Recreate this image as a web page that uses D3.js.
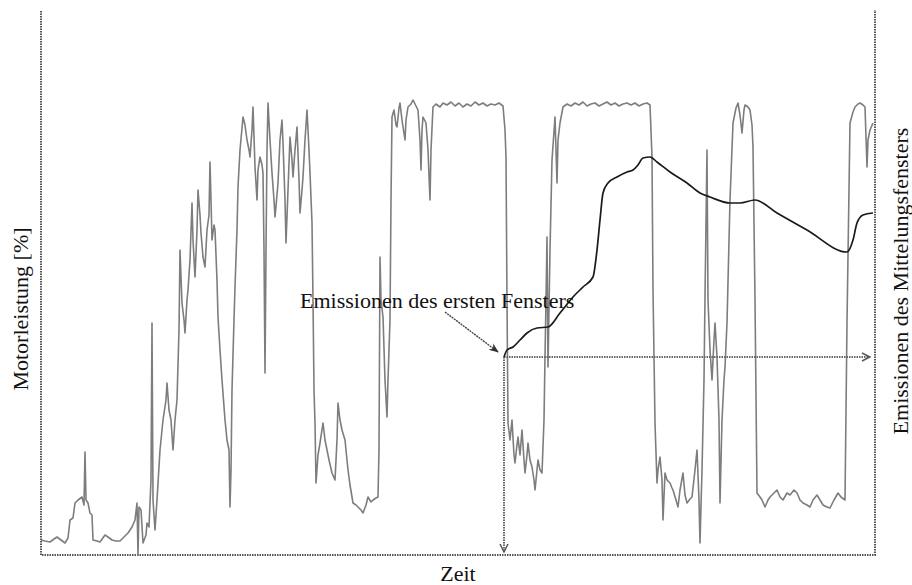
<!DOCTYPE html>
<html>
<head>
<meta charset="utf-8">
<script src="https://cdn.jsdelivr.net/npm/d3@7"></script>
<style>
  body { margin: 0; background: #fff; }
  text { font-family: "Liberation Serif", "DejaVu Serif", serif; fill: #111; }
</style>
</head>
<body>
<div id="chart"></div>
<script>
var width = 912,
    height = 585;

// Motorleistung ueber der Zeit (s, %)
var zeit = [0,8,18,26,32,40,48,54,58,64,68,74,82,86,88,90,94,98,102,104,
  112,118,128,134,142,150,158,166,174,182,188,192,194,196,200,204,210,212,216,220,
  222,224,228,232,238,244,250,252,256,260,264,268,272,276,278,282,286,288,292,294,
  298,302,304,308,312,314,318,320,324,328,332,336,338,340,342,346,348,352,354,358,
  362,368,372,376,378,380,382,386,388,392,394,398,404,408,412,416,418,422,424,428,
  432,434,438,442,444,446,448,450,452,454,458,462,466,468,472,474,478,482,484,488,
  490,494,498,502,504,508,512,516,518,522,524,528,532,536,538,542,544,546,548,550,
  554,558,564,568,572,576,582,588,592,594,598,602,608,614,618,624,630,634,640,644,
  650,654,660,664,670,674,676,678,680,684,688,692,694,698,700,702,706,710,712,716,
  718,722,728,730,734,740,744,750,754,758,760,762,764,770,774,778,780,784,790,798,
  804,812,820,828,836,844,852,860,868,876,884,892,900,908,916,924,928,930,932,934,
  938,942,946,948,952,954,958,962,966,968,972,974,978,982,986,988,992,994,998,1002,
  1006,1008,1010,1012,1014,1018,1022,1028,1032,1034,1038,1044,1052,1060,1068,1076,1084,1092,1100,1108,
  1116,1124,1132,1140,1148,1156,1164,1172,1180,1188,1196,1204,1212,1218,1222,1224,1228,1232,1234,1238,
  1242,1244,1248,1252,1258,1262,1264,1270,1274,1278,1284,1288,1292,1298,1302,1308,1312,1316,1318,1322,
  1326,1328,1332,1334,1338,1342,1346,1348,1352,1356,1358,1362,1366,1368,1372,1378,1384,1390,1394,1398,
  1402,1406,1408,1414,1418,1422,1424,1428,1432,1438,1442,1448,1454,1458,1466,1472,1478,1484,1492,1498,
  1506,1512,1518,1524,1532,1538,1544,1552,1558,1564,1572,1578,1586,1594,1600,1608,1612,1618,1624,1628,
  1634,1638,1644,1648,1652,1654,1658,1664];

var leistung = [3,2.8,2.6,3.2,3.6,3,2.4,3.4,7,7.4,10.4,11,11.6,10,20.6,11,10.4,8.4,8,3,
  2.8,2.6,4,3.6,3,2.8,2.8,3.6,4.4,5.6,7,10.4,0,9.6,9,2.4,4,6.4,5.6,15,
  46.4,11,5,11,21,27,31,34.4,29,27,21,27,31,45,61,50.4,47,44.4,51,53,
  59,70.4,63,55.6,65,73,68,64.4,59.6,57.6,65,68,78.6,71,63,66,65,55,47.6,41,
  35,27,23,21,9.6,17,33,47,53.6,65,73.6,81,87.6,86,83,81,79.6,85,89.6,77.6,
  71,77,79.6,78,76.4,61,36.4,61,81,90.4,83,76.4,71,67.6,72,74.4,83,87,82.4,71,
  62.4,73,83.6,79,75.6,81,85.6,75,68.4,73,75.6,83,89,81,76.4,66.4,51,33,26.4,14.4,
  20,22.4,26.4,23,21,19,16.4,15,23,30.4,27,25,23,17,14,10.4,10,9.6,9,8.4,
  10,11.6,10.6,11,11.4,11.6,21,59.6,51,47.6,35,27.6,35,47,71,87.6,89,86,85.6,89.4,
  90.4,87,83,87,89.6,90.2,91,89.8,89,83,77,85,87.6,86.4,81,71,81,89.6,90.2,89.6,
  90.4,90,90.6,89.8,90.4,89.6,90.2,89.8,90.6,90,90.4,89.8,90.2,90,90.4,89.8,85,79.6,51,26.4,
  23,27,20,18.4,22,23.6,20,25,19,16.4,20,22.4,19,17.6,15,13,17,19,17,16.4,
  27,39.6,51,63.6,37.6,61,79,87.6,74.4,83,86.4,89.6,90.2,89.8,90.4,90,90.6,89.8,90.2,90.4,
  89.8,90.2,90.6,90,90.4,89.8,90.2,90.4,90,90.4,89.8,90.2,90.4,90,79.6,53,26.4,14.4,17,19.6,
  15,7,16.4,15,14.4,13.4,13,11,9.6,13,16.4,12,10.4,11.2,11.6,17,21,11,2.4,17,
  35,51.6,81,51,41,35,43,46.4,39.6,27,10.4,27,35,37.6,46.4,71,86.4,89.4,90.4,88,
  84.4,89,90,89.6,89,86,81.6,51,12.4,11.6,11,9.6,11,11.6,12.4,13,11.6,11,12.4,12,
  13,12.4,11,10.4,10,9.6,11,12,11,10,9.6,9.4,11,12.4,11.6,11,46.4,86.4,88.6,89.6,
  90.2,90.4,90,89.6,77.6,83,85,86.4];

// Emissionen des Mittelungsfensters (rechte Achse)
var emZeit = [926,932,944,958,972,992,1014,1038,1064,1084,1104,1112,1118,1124,1134,1152,1172,1184,1194,1204,
  1218,1232,1258,1292,1318,1338,1378,1398,1428,1472,1532,1612,1624,1632,1644,1664];
var emWert = [39.6,41,41.6,43,44.4,45.4,45.6,48.4,51.6,53.6,55.6,61,67,72.4,74.4,75.6,76.6,77,78,79.4,
  79.6,78.6,76.6,74.4,72.4,71.6,70.4,70.4,71,68.4,65,60.6,63,66.4,68,68.4];

var fensterStart = 926,
    fensterEnde = 1658;

var labelLinks = "Motorleistung [%]",
    labelRechts = "Emissionen des Mittelungsfensters",
    labelUnten = "Zeit",
    labelHinweis = "Emissionen des ersten Fensters";

var plotLeft = 41, plotRight = 875, plotBottom = 555, plotTop = 11;

var svg = d3.select("#chart")
    .append("svg")
    .attr("width", width)
    .attr("height", height);

var x = d3.scaleLinear().domain([0, 1668]).range([plotLeft, plotRight]);
var y = d3.scaleLinear().domain([0, 100]).range([plotBottom, 55]);
var yEm = d3.scaleLinear().domain([0, 100]).range([plotBottom, 55]);

var defs = svg.append("defs");
defs.append("marker")
    .attr("id", "chevron")
    .attr("viewBox", "0 0 10 10")
    .attr("refX", 9).attr("refY", 5)
    .attr("markerWidth", 10).attr("markerHeight", 10)
    .attr("markerUnits", "userSpaceOnUse")
    .attr("orient", "auto")
  .append("path")
    .attr("d", "M1,1 L9,5 L1,9")
    .attr("fill", "none")
    .attr("stroke", "#555")
    .attr("stroke-width", 1.5);
defs.append("marker")
    .attr("id", "pfeil")
    .attr("viewBox", "0 0 10 10")
    .attr("refX", 9).attr("refY", 5)
    .attr("markerWidth", 10).attr("markerHeight", 10)
    .attr("markerUnits", "userSpaceOnUse")
    .attr("orient", "auto")
  .append("path")
    .attr("d", "M0,1 L10,5 L0,9 L3,5 Z")
    .attr("fill", "#333");

// Rahmen (links, unten, rechts)
svg.append("path")
    .attr("d", "M" + plotLeft + "," + plotTop + " V" + plotBottom + " H" + plotRight + " V" + (plotTop - 1))
    .attr("fill", "none")
    .attr("stroke", "#555")
    .attr("stroke-width", 2)
    .attr("stroke-dasharray", "1.5,1");

var leistungLinie = d3.line()
    .x(function(d) { return x(d[0]); })
    .y(function(d) { return y(d[1]); });

svg.append("path")
    .datum(d3.zip(zeit, leistung))
    .attr("class", "leistung")
    .attr("d", leistungLinie)
    .attr("fill", "none")
    .attr("stroke", "#7d7d7d")
    .attr("stroke-width", 1.6)
    .attr("stroke-linejoin", "round");

// Fensterpfeile
var e0 = emWert[0];
svg.append("line")
    .attr("x1", x(fensterStart)).attr("y1", yEm(e0))
    .attr("x2", x(fensterEnde)).attr("y2", yEm(e0))
    .attr("stroke", "#666")
    .attr("stroke-width", 2)
    .attr("stroke-dasharray", "1.5,1")
    .attr("marker-end", "url(#chevron)");
svg.append("line")
    .attr("x1", x(fensterStart)).attr("y1", yEm(e0))
    .attr("x2", x(fensterStart)).attr("y2", y(0.6))
    .attr("stroke", "#666")
    .attr("stroke-width", 2)
    .attr("stroke-dasharray", "1.5,1")
    .attr("marker-end", "url(#chevron)");

var emLinie = d3.line()
    .x(function(d) { return x(d[0]); })
    .y(function(d) { return yEm(d[1]); })
    .curve(d3.curveMonotoneX);

svg.append("path")
    .datum(d3.zip(emZeit, emWert))
    .attr("class", "emission")
    .attr("d", emLinie)
    .attr("fill", "none")
    .attr("stroke", "#1a1a1a")
    .attr("stroke-width", 1.7);

// Hinweis
var px = x(fensterStart) - 6, py = yEm(e0) - 5;
svg.append("line")
    .attr("x1", px - 53).attr("y1", py - 40)
    .attr("x2", px).attr("y2", py)
    .attr("stroke", "#444")
    .attr("stroke-width", 1.4)
    .attr("stroke-dasharray", "2,0.8")
    .attr("marker-end", "url(#pfeil)");

svg.append("text")
    .attr("x", 300)
    .attr("y", 308)
    .style("font-size", "22px")
    .text(labelHinweis);

svg.append("text")
    .attr("transform", "translate(28," + 309 + ") rotate(-90)")
    .attr("text-anchor", "middle")
    .style("font-size", "22px")
    .text(labelLinks);

svg.append("text")
    .attr("transform", "translate(908," + 281 + ") rotate(-90)")
    .attr("text-anchor", "middle")
    .style("font-size", "22px")
    .text(labelRechts);

svg.append("text")
    .attr("x", (plotLeft + plotRight) / 2)
    .attr("y", 581)
    .attr("text-anchor", "middle")
    .style("font-size", "22px")
    .text(labelUnten);
</script>
</body>
</html>
